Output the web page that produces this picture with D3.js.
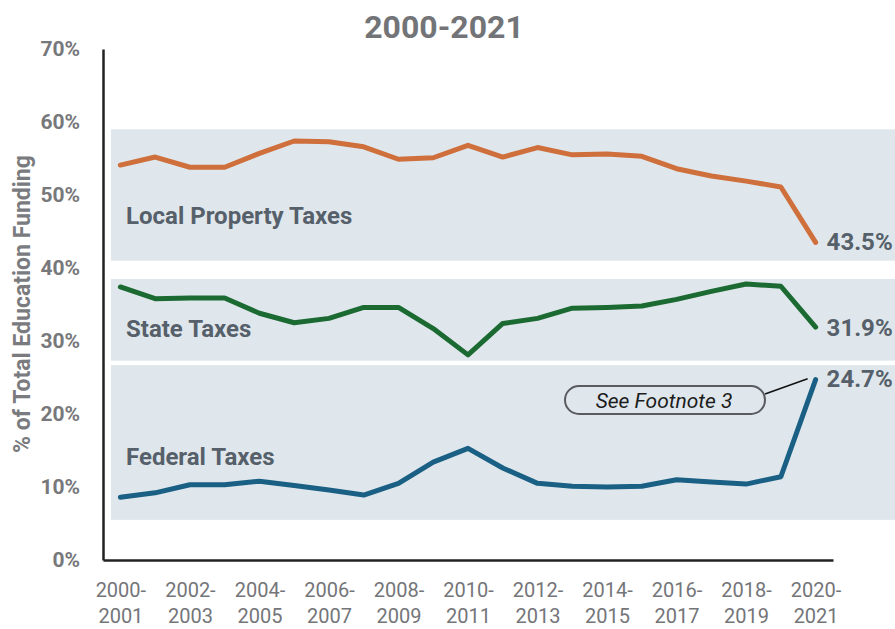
<!DOCTYPE html>
<html>
<head>
<meta charset="utf-8">
<script src="https://cdn.jsdelivr.net/npm/d3@7"></script>
<style>
  html, body { margin: 0; padding: 0; background: #fff; }
  svg { display: block; font-family: Roboto, "Noto Sans", sans-serif; }
</style>
</head>
<body>
<svg id="chart" width="895" height="629"></svg>
<script>
const years = ["2000-2001","2001-2002","2002-2003","2003-2004","2004-2005","2005-2006","2006-2007","2007-2008","2008-2009","2009-2010","2010-2011","2011-2012","2012-2013","2013-2014","2014-2015","2015-2016","2016-2017","2017-2018","2018-2019","2019-2020","2020-2021"];
const localTaxes = [54.1,55.2,53.8,53.8,55.7,57.4,57.3,56.6,54.9,55.1,56.8,55.2,56.5,55.5,55.6,55.3,53.6,52.6,51.9,51.1,43.5];
const stateTaxes = [37.4,35.8,35.9,35.9,33.8,32.5,33.1,34.6,34.6,31.7,28.1,32.4,33.1,34.5,34.6,34.8,35.7,36.8,37.8,37.5,31.9];
const federalTaxes = [8.6,9.2,10.3,10.3,10.8,10.2,9.6,8.9,10.5,13.4,15.3,12.6,10.5,10.1,10.0,10.1,11.0,10.7,10.4,11.4,24.7];
const seriesNames = ["Local Property Taxes","State Taxes","Federal Taxes"];
const seriesEnds = ["43.5%","31.9%","24.7%"];
const bandRanges = [[41.0,59.0],[27.3,38.5],[5.5,26.7]];
const yTicks = [0,10,20,30,40,50,60,70];
const titleText = "2000-2021";
const yAxisTitle = "% of Total Education Funding";
const noteText = "See Footnote 3";

const colors = ["#cf6f3b","#1b6a32","#1a5f84"];
const svg = d3.select("#chart");

const x = d3.scalePoint().domain(years).range([103, 833]).padding(0.5);
const y = d3.scaleLinear().domain([0, 70]).range([560, 49]);

// title
svg.append("text").attr("x", 444).attr("y", 38).attr("text-anchor", "middle")
  .attr("font-size", 32).attr("font-weight", 700).attr("fill", "#737477").text(titleText);

// bands
svg.selectAll("rect.band").data(bandRanges).join("rect")
  .attr("class", "band")
  .attr("x", 111).attr("width", 895 - 111)
  .attr("y", d => y(d[1])).attr("height", d => y(d[0]) - y(d[1]))
  .attr("fill", "#dfe7ec");

// series
const allSeries = [localTaxes, stateTaxes, federalTaxes];
const line = d3.line().x((d, i) => x(years[i])).y(d => y(d));
svg.selectAll("path.series").data(allSeries).join("path")
  .attr("class", "series")
  .attr("d", line)
  .attr("fill", "none")
  .attr("stroke", (d, i) => colors[i])
  .attr("stroke-width", 5)
  .attr("stroke-linejoin", "round")
  .attr("stroke-linecap", "round");

// series labels inside bands
svg.selectAll("text.sname").data(seriesNames).join("text")
  .attr("class", "sname")
  .attr("x", 126)
  .attr("y", (d, i) => [224, 337, 465][i])
  .attr("font-size", 24).attr("font-weight", 700).attr("fill", "#56606a")
  .text(d => d);

// end value labels
svg.selectAll("text.endv").data(seriesEnds).join("text")
  .attr("class", "endv")
  .attr("x", x(years[years.length - 1]) + 11)
  .attr("y", (d, i) => y(allSeries[i][allSeries[i].length - 1]) + [8, 9, 7][i])
  .attr("font-size", 24).attr("font-weight", 700).attr("fill", "#56606a")
  .text(d => d);

// axes
const yAxis = svg.append("g").attr("transform", "translate(103,0)")
  .call(d3.axisLeft(y).tickValues(yTicks).tickSize(0).tickPadding(23).tickFormat(d => d + "%"));
yAxis.select(".domain").attr("stroke", "#222").attr("stroke-width", 2.5);
yAxis.selectAll("text").attr("font-size", 21).attr("font-weight", 700).attr("fill", "#77787b")
  .attr("font-family", "Roboto, sans-serif");

const xAxis = svg.append("g").attr("transform", "translate(0,560)")
  .call(d3.axisBottom(x).tickValues(years.filter((d, i) => i % 2 === 0)).tickSize(0).tickFormat(""));
xAxis.select(".domain").attr("stroke", "#222").attr("stroke-width", 2.5);
xAxis.selectAll(".tick").each(function(d) {
  const parts = d.split("-");
  const t = d3.select(this).append("text").attr("text-anchor", "middle")
    .attr("font-size", 20).attr("fill", "#747579").attr("font-family", "Roboto, sans-serif");
  t.append("tspan").attr("x", 0).attr("y", 37).text(parts[0] + "-");
  t.append("tspan").attr("x", 0).attr("y", 63).text(parts[1]);
});

// y axis title
svg.append("text")
  .attr("transform", "translate(30,304) rotate(-90)")
  .attr("text-anchor", "middle")
  .attr("font-size", 23).attr("font-weight", 700).attr("fill", "#7a7b7e")
  .text(yAxisTitle);

// footnote annotation
const lastX = x(years[years.length - 1]);
const lastY = y(federalTaxes[federalTaxes.length - 1]);
svg.append("line")
  .attr("x1", 765).attr("y1", 394)
  .attr("x2", lastX - 8).attr("y2", lastY - 1)
  .attr("stroke", "#111").attr("stroke-width", 1.5);
svg.append("rect")
  .attr("x", 565).attr("y", 386).attr("width", 200).attr("height", 28)
  .attr("rx", 14).attr("ry", 14)
  .attr("fill", "#dfe7ec").attr("stroke", "#5a5b5e").attr("stroke-width", 2);
svg.append("text").attr("x", 664).attr("y", 408).attr("text-anchor", "middle")
  .attr("font-size", 21).attr("font-style", "italic").attr("fill", "#1c1c1c")
  .text(noteText);
</script>
</body>
</html>
